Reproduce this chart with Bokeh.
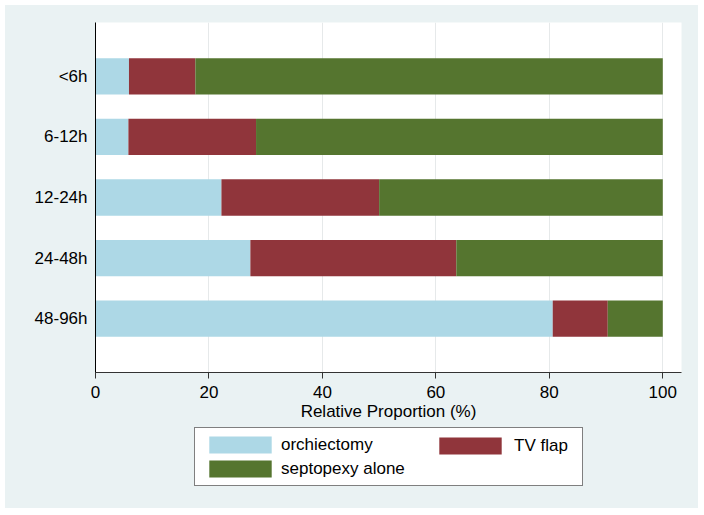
from bokeh.plotting import figure
from bokeh.models import FactorRange, Range1d, Legend, LegendItem, FixedTicker
from bokeh.layouts import column
from bokeh.embed import file_html
from bokeh.resources import INLINE

categories = ["<6h", "6-12h", "12-24h", "24-48h", "48-96h"]
orchiectomy = [5.9, 5.8, 22.2, 27.3, 80.6]
tv_flap = [11.7, 22.5, 27.8, 36.3, 9.7]
septopexy_alone = [82.4, 71.7, 50.0, 36.4, 9.7]
series_names = ["orchiectomy", "TV flap", "septopexy alone"]
colors = ["#ADD8E6", "#90353B", "#55752F"]
x_ticks = [0, 20, 40, 60, 80, 100]

BG = "#EAF2F3"
FONT = "Liberation Sans"

data = {"cat": categories, "orchiectomy": orchiectomy, "TV flap": tv_flap,
        "septopexy alone": septopexy_alone}

p = figure(width=693, height=422, margin=0,
           output_backend="svg", toolbar_location=None,
           y_range=FactorRange(factors=categories[::-1], range_padding=0.39,
                               range_padding_units="absolute"),
           x_range=Range1d(0, 103.3),
           min_border_left=90, min_border_top=17, min_border_right=17,
           min_border_bottom=55)
p.border_fill_color = BG
p.background_fill_color = "white"
p.outline_line_color = None

rs = p.hbar_stack(series_names, y="cat", height=0.6, color=colors, source=data,
                  line_color=None)

# axes
p.xaxis.ticker = FixedTicker(ticks=x_ticks)
p.xaxis.axis_label = "Relative Proportion (%)"
p.xaxis.axis_label_text_font = FONT
p.xaxis.axis_label_text_font_size = "17px"
p.xaxis.axis_label_text_font_style = "normal"
p.xaxis.axis_label_text_color = "black"
p.xaxis.axis_label_standoff = 1
p.xaxis.major_label_text_font = FONT
p.xaxis.major_label_text_font_size = "17px"
p.xaxis.major_label_text_color = "black"
p.xaxis.major_label_standoff = 7
p.xaxis.major_tick_out = 6
p.xaxis.major_tick_in = 0
p.xaxis.minor_tick_out = 0
p.xaxis.minor_tick_in = 0
p.xaxis.axis_line_color = "#333333"
p.xaxis.major_tick_line_color = "#333333"

p.yaxis.major_label_text_font = FONT
p.yaxis.major_label_text_font_size = "17px"
p.yaxis.major_label_text_color = "black"
p.yaxis.major_tick_out = 0
p.yaxis.major_tick_in = 0
p.yaxis.major_label_standoff = 8
p.yaxis.axis_line_color = "black"

p.ygrid.grid_line_color = None
p.xgrid.grid_line_color = "#E6E9EA"
p.xgrid.ticker = FixedTicker(ticks=x_ticks)

# legend panel below the chart (same background); the swatches come from
# hidden copies of the series renderers in this panel
pl = figure(width=693, height=81, margin=0, output_backend="svg",
            toolbar_location=None, x_axis_type=None, y_axis_type=None,
            x_range=Range1d(0, 100), y_range=FactorRange(factors=categories),
            min_border=0)
pl.border_fill_color = BG
pl.background_fill_color = BG
pl.outline_line_color = None
pl.xgrid.grid_line_color = None
pl.ygrid.grid_line_color = None
lr = pl.hbar_stack(series_names, y="cat", height=0.6, color=colors, source=data,
                   line_color=None)
for r in lr:
    r.visible = False

leg1 = Legend(items=[LegendItem(label=series_names[0], renderers=[lr[0]]),
                     LegendItem(label=series_names[2], renderers=[lr[2]])],
              location=(99, 22), orientation="vertical",
              glyph_width=78, glyph_height=21, label_height=21, label_width=295,
              label_standoff=2, spacing=3, padding=6, margin=0,
              label_text_font=FONT, label_text_font_size="17px",
              label_text_color="black",
              border_line_color="black", border_line_width=1,
              background_fill_color="white", background_fill_alpha=1,
              inactive_fill_alpha=0)
leg2 = Legend(items=[LegendItem(label=series_names[1], renderers=[lr[1]])],
              location=(336, 52), orientation="vertical",
              glyph_width=78, glyph_height=21, label_height=21,
              label_standoff=5, spacing=0, padding=0, margin=0,
              label_text_font=FONT, label_text_font_size="17px",
              label_text_color="black",
              border_line_alpha=0, background_fill_alpha=0,
              inactive_fill_alpha=0)
pl.add_layout(leg1, "center")
pl.add_layout(leg2, "center")

layout = column(p, pl, spacing=0, margin=(5, 6, 7, 5),
                styles={"background-color": BG})

open("out.html", "w").write(file_html(layout, INLINE))
